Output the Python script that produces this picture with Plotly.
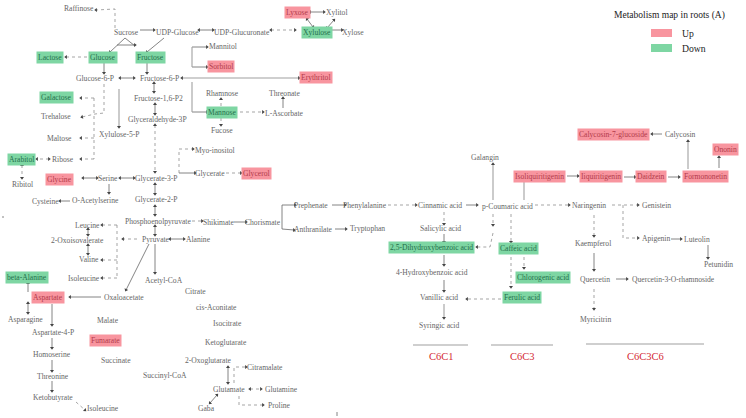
import math
import plotly.graph_objects as go

W, H = 746, 418
FONT = "Liberation Serif"
UP_BG, DOWN_BG = "#f8959f", "#7ed6a3"
UP_TX, DOWN_TX = "#b23b4a", "#24704c"
TEXT = "#666666"

# name, x, y, status (u = up, d = down, "" = unchanged)
NODES = [
    ("Raffinose",79,8,""),("Sucrose",126,32,""),("UDP-Glucose",177,32,""),("UDP-Glucuronate",242,32,""),
    ("Lyxose",297,12,"u"),("Xylitol",337,12,""),("Xylulose",317,32,"d"),("Xylose",353,32,""),
    ("Mannitol",223,46,""),("Sorbitol",221,66,"u"),("Erythritol",316,77,"u"),("Rhamnose",222,93,""),
    ("Threonate",284,93,""),("Mannose",222,112,"d"),("L-Ascorbate",284,113,""),("Fucose",222,130,""),
    ("Myo-inositol",215,150,""),("Glycerate",210,173,""),("Glycerol",256,173,"u"),
    ("Lactose",50,57,"d"),("Glucose",103,57,"d"),("Fructose",150,57,"d"),("Glucose-6-P",95,78,""),
    ("Fructose-6-P",159,78,""),("Galactose",56,97,"d"),("Fructose-1,6-P2",158,98,""),("Trehalose",56,116,""),
    ("Glyceraldehyde-3P",157,119,""),("Xylulose-5-P",119,134,""),("Maltose",59,138,""),("Arabitol",21,159,"d"),
    ("Ribose",63,159,""),("Glycine",59,179,"u"),("Serine",108,178,""),("Glycerate-3-P",156,178,""),
    ("Ribitol",22,184,""),("Cysteine",45,201,""),("O-Acetylserine",95,200,""),("Glycerate-2-P",156,199,""),
    ("Phosphoenolpyruvate",158,221,""),("Shikimate",218,222,""),("Chorismate",263,222,""),
    ("Prephenate",311,205,""),("Phenylalanine",365,205,""),("Anthranilate",313,229,""),("Tryptophan",367,228,""),
    ("Leucine",87,225,""),("2-Oxoisovalerate",77,240,""),("Pyruvate",156,239,""),("Alanine",198,239,""),
    ("Valine",89,259,""),("Isoleucine",84,278,""),("beta-Alanine",27,277,"d"),("Acetyl-CoA",164,280,""),
    ("Citrate",195,291,""),("Aspartate",48,297,"u"),("Oxaloacetate",124,297,""),("cis-Aconitate",216,307,""),
    ("Asparagine",25,319,""),("Malate",108,320,""),("Isocitrate",227,323,""),("Aspartate-4-P",53,332,""),
    ("Ketoglutarate",226,342,""),("Fumarate",105,340,"u"),("Homoserine",52,354,""),("Succinate",116,360,""),
    ("2-Oxoglutarate",208,360,""),("Threonine",53,376,""),("Succinyl-CoA",165,375,""),("Citramalate",265,367,""),
    ("Ketobutyrate",53,397,""),("Glutamate",229,389,""),("Glutamine",281,389,""),("Isoleucine",103,408,""),
    ("Gaba",206,408,""),("Proline",279,405,""),
    ("Galangin",485,157,""),("Isoliquiritigenin",539,176,"u"),("Cinnamic acid",440,205,""),("p-Coumaric acid",507,206,""),
    ("Salicylic acid",440,228,""),("2,5-Dihydroxybenzoic acid",431,247,"d"),("Caffeic acid",518,248,"d"),
    ("4-Hydroxybenzoic acid",432,272,""),("Chlorogenic acid",543,277,"d"),("Vanillic acid",439,297,""),
    ("Ferulic acid",522,297,"d"),("Syringic acid",439,325,""),("Naringenin",589,205,""),("Genistein",656,205,""),
    ("Kaempferol",593,243,""),("Apigenin",656,238,""),("Luteolin",697,239,""),("Petunidin",718,264,""),
    ("Quercetin",595,279,""),("Quercetin-3-O-rhamnoside",673,279,""),("Myricitrin",595,319,""),
    ("Iiquiritigenin",601,176,"u"),("Daidzein",651,176,"u"),("Formononetin",705,176,"u"),("Ononin",725,149,"u"),
    ("Calycosin",680,134,""),("Calycosin-7-glucoside",613,134,"u"),
]

# style, heads (">" end only, "<>" both, "" none), waypoints
EDGES = [
    ("d",">",[(115,28),(115,9),(96,10)]),("s",">",[(140,30),(154,30)]),("s",">",[(125,38),(110,52)]),
    ("s","",[(125,38),(135,46)]),("s",">",[(117,45),(135,45)]),("s",">",[(164,38),(147,52)]),
    ("d",">",[(87,57),(66,57)]),("s",">",[(104,62),(104,73)]),("s",">",[(147,62),(147,73)]),
    ("s","<>",[(120,78),(134,78)]),("g","",[(192,47),(192,67)]),("g","",[(192,82),(192,112)]),
    ("g","<>",[(299,78),(182,78)]),("s",">",[(192,47),(207,47)]),("s",">",[(192,67),(207,67)]),
    ("s",">",[(192,112),(207,112)]),("s","<>",[(154,83),(154,92)]),("s","<>",[(155,104),(155,114)]),
    ("d","<>",[(155,125),(155,172)]),("d",">",[(104,84),(104,113),(95,114),(82,117)]),
    ("d","",[(94,98),(94,159)]),("d",">",[(94,98),(81,98)]),("d",">",[(94,138),(81,138)]),("d",">",[(94,159),(81,159)]),
    ("g",">",[(119,89),(119,127)]),("d","<>",[(49,159),(37,159)]),("d","<>",[(22,165),(22,178)]),
    ("s","<>",[(83,178),(97,178)]),("s","<>",[(120,178),(134,178)]),("s",">",[(109,184),(109,193)]),
    ("s",">",[(70,201),(60,201)]),("s","<>",[(155,184),(155,194)]),("s","<>",[(155,206),(155,215)]),
    ("s","<>",[(155,226),(155,235)]),("d",">",[(179,173),(179,149),(193,149)]),("s",">",[(179,173),(195,173)]),
    ("d",">",[(226,173),(241,173)]),("d",">",[(192,221),(202,221)]),("s",">",[(234,222),(246,222)]),
    ("s","",[(282,205),(282,229)]),("s",">",[(282,229),(294,230)]),("s",">",[(282,205),(295,205)]),
    ("s",">",[(332,205),(345,205)]),("d",">",[(388,205),(416,205)]),("s",">",[(335,229),(346,229)]),
    ("s",">",[(466,205),(477,205)]),("g",">",[(493,200),(493,164)]),("g",">",[(524,200),(524,181)]),
    ("d",">",[(535,205),(569,205)]),("s",">",[(567,176),(578,176)]),("s",">",[(624,177),(635,177)]),
    ("s",">",[(668,177),(679,177)]),("g",">",[(688,169),(688,141)]),("s",">",[(719,168),(719,157)]),
    ("s",">",[(662,134),(652,134)]),("d",">",[(612,205),(638,205)]),("d",">",[(623,205),(623,238),(638,238)]),
    ("s",">",[(671,239),(681,239)]),("s",">",[(708,245),(708,258)]),("d",">",[(594,215),(594,236)]),
    ("s",">",[(594,253),(594,270)]),("s",">",[(616,279),(627,279)]),("d",">",[(594,289),(594,309)]),
    ("d",">",[(444,212),(444,224)]),("s",">",[(444,234),(444,242)]),("s",">",[(444,255),(444,265)]),
    ("s",">",[(444,280),(444,291)]),("g",">",[(444,304),(444,318)]),("d",">",[(493,214),(493,225)]),
    ("d",">",[(493,233),(490,247),(477,247)]),("d",">",[(511,214),(511,242)]),("d",">",[(511,257),(511,287)]),
    ("d",">",[(524,257),(524,268)]),("d",">",[(501,299),(467,299)]),
    ("s","<>",[(170,239),(184,239)]),("d",">",[(137,239),(123,239)]),("d","",[(117,225),(117,278)]),
    ("d",">",[(117,225),(102,225)]),("d",">",[(117,260),(102,260)]),("d",">",[(117,278),(102,278)]),
    ("s","<>",[(88,229),(88,235)]),("s","<>",[(88,245),(88,254)]),("s",">",[(155,244),(155,273)]),
    ("s",">",[(149,244),(126,290)]),("s",">",[(101,297),(70,297)]),("s",">",[(28,292),(28,283)]),
    ("s","<>",[(28,303),(28,313)]),("s",">",[(52,304),(52,325)]),("s",">",[(52,338),(52,348)]),
    ("s",">",[(52,360),(52,371)]),("s",">",[(52,381),(52,391)]),("d",">",[(76,402),(85,410)]),
    ("s","<>",[(228,367),(228,383)]),("d",">",[(234,383),(234,367),(246,367)]),("d","<>",[(250,389),(261,389)]),
    ("s","<>",[(210,403),(217,395)]),("d",">",[(239,396),(239,405),(263,405)]),
    ("s","<>",[(199,30),(213,30)]),("d","<>",[(271,30),(295,30)]),("s","<>",[(310,12),(324,12)]),
    ("s","<>",[(307,19),(313,27)]),("s","<>",[(327,28),(334,20)]),("s","<>",[(331,30),(342,30)]),
    ("d",">",[(221,106),(221,99)]),("d",">",[(221,118),(221,125)]),("d",">",[(240,112),(263,112)]),
    ("s",">",[(283,108),(283,98)]),
    ("g","",[(413,345),(468,345)]),("g","",[(491,345),(553,345)]),("g","",[(586,344),(704,344)]),
    ("s","",[(337,412),(337,416)]),("s","",[(3,216),(3,218)]),
]

SECTIONS = [("C6C1",441,356),("C6C3",522,356),("C6C3C6",645,356)]
LEGEND_TITLE = "Metabolism map in roots (A)"
LEGEND_ITEMS = [("Up",33,UP_BG),("Down",48,DOWN_BG)]

STYLES = {"s": ("#666666",0.8,"solid"), "d": ("#808080",0.7,"3px,3px"), "g": ("#a0a0a0",1.1,"solid")}

fig = go.Figure()
for key,(col,wd,dash) in STYLES.items():
    xs, ys = [], []
    for st,_,pts in EDGES:
        if st == key:
            xs += [p[0] for p in pts] + [None]
            ys += [p[1] for p in pts] + [None]
    fig.add_trace(go.Scatter(x=xs,y=ys,mode="lines",line=dict(color=col,width=wd,dash=dash),hoverinfo="skip"))

def bearing(a,b):
    return math.degrees(math.atan2(b[0]-a[0], -(b[1]-a[1])))

hx, hy, ha = [], [], []
for st,heads,pts in EDGES:
    if ">" in heads:
        hx.append(pts[-1][0]); hy.append(pts[-1][1]); ha.append(bearing(pts[-2],pts[-1]))
    if "<" in heads:
        hx.append(pts[0][0]); hy.append(pts[0][1]); ha.append(bearing(pts[1],pts[0]))
fig.add_trace(go.Scatter(x=hx,y=hy,mode="markers",hoverinfo="skip",
    marker=dict(symbol="triangle-up",size=3.5,angle=ha,color="#444444",line=dict(width=0))))

ann = []
for name,x,y,s in NODES:
    bg = {"u":UP_BG,"d":DOWN_BG}.get(s)
    tx = {"u":UP_TX,"d":DOWN_TX}.get(s,TEXT)
    ann.append(dict(x=x,y=y,text=name,showarrow=False,bgcolor=bg,borderpad=1,
                    font=dict(family=FONT,size=7.6,color=tx)))
for name,x,y in SECTIONS:
    ann.append(dict(x=x,y=y,text=name,showarrow=False,font=dict(family=FONT,size=10.5,color="#d42a35")))
ann.append(dict(x=669,y=15,text=LEGEND_TITLE,showarrow=False,font=dict(family=FONT,size=9.5,color="#222222")))
shapes = []
for name,y,col in LEGEND_ITEMS:
    ann.append(dict(x=680,y=y,text=name,xanchor="left",showarrow=False,font=dict(family=FONT,size=9.7,color="#222222")))
    shapes.append(dict(type="rect",x0=651,x1=672,y0=y-4,y1=y+4,fillcolor=col,line=dict(width=0)))

fig.update_layout(width=W,height=H,margin=dict(l=0,r=0,t=0,b=0),showlegend=False,
    paper_bgcolor="white",plot_bgcolor="white",annotations=ann,shapes=shapes,
    xaxis=dict(range=[0,W],visible=False,fixedrange=True),
    yaxis=dict(range=[H,0],visible=False,fixedrange=True))
fig.write_html("out.html", config={"displayModeBar": False},
               post_script="document.body.style.margin='0';document.documentElement.style.overflow='hidden';")
